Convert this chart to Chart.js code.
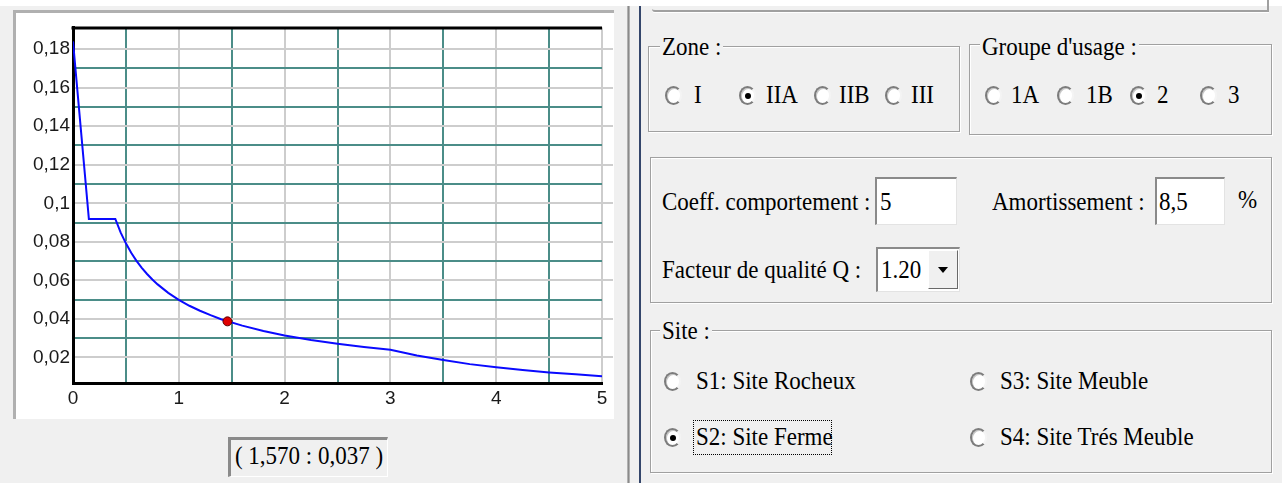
<!DOCTYPE html>
<html><head><meta charset="utf-8">
<script src="https://cdn.jsdelivr.net/npm/chart.js@4.4.1/dist/chart.umd.min.js"></script>
<style>
html,body{margin:0;padding:0;}
body{width:1282px;height:483px;background:#f0f0f0;position:relative;overflow:hidden;font-family:'Liberation Serif','Times New Roman',serif;color:#000;}
.a{position:absolute;box-sizing:border-box;}
.t{position:absolute;font-size:23px;white-space:nowrap;height:30px;line-height:30px;transform:scaleY(1.1);transform-origin:0 50%;}
.box{position:absolute;box-sizing:border-box;border:1px solid #a0a0a0;box-shadow:1px 1px 0 #fff, inset 1px 1px 0 #fff;}
.lbl{background:#f0f0f0;padding:0 2px;}
.rd{position:absolute;width:13px;height:15px;border-radius:50%;background:#fff;border:2px solid #7c7c7c;border-right-color:#f4f4f4;box-shadow:inset 1px 1px 0 #c8c8c8;}
.rd.on::after{content:'';position:absolute;left:3.5px;top:4.5px;width:6px;height:6px;border-radius:50%;background:#000;}
.inp{position:absolute;box-sizing:border-box;background:#fff;border-top:2px solid #8a8a8a;border-left:2px solid #8a8a8a;border-right:1px solid #e3e3e3;border-bottom:1px solid #e3e3e3;}
</style></head>
<body>
<div class="a" style="left:0;top:0;width:1282px;height:6px;background:#fff"></div>

<!-- left chart panel -->
<div class="a" style="left:13px;top:10px;width:601px;height:409px;background:#fff;border-top:3px solid #b0b0b0;border-left:3px solid #b0b0b0"></div>
<canvas id="c" width="598" height="406" style="position:absolute;left:16px;top:13px"></canvas>

<div class="a" style="left:228px;top:437px;width:160px;height:40px;border-top:3px solid #8a8a8a;border-left:3px solid #8a8a8a;border-right:1px solid #fff;border-bottom:1px solid #fff"></div>
<div class="t" style="left:228px;top:441px;width:162px;text-align:center">( 1,570 : 0,037 )</div>

<!-- separators -->
<div class="a" style="left:627px;top:6px;width:3px;height:477px;background:linear-gradient(to right,#c4c4c4,#8a8a8a,#c4c4c4)"></div>
<div class="a" style="left:639px;top:6px;width:2px;height:477px;background:#34466b"></div>

<!-- top right cut box -->
<div class="a" style="left:652px;top:-20px;width:617px;height:32px;border-right:2px solid #a0a0a0;border-bottom:2px solid #a0a0a0;border-bottom-left-radius:3px;box-shadow:0 1px 0 #fff"></div>

<!-- Zone -->
<div class="box" style="left:648px;top:46px;width:312px;height:86px"></div>
<div class="t lbl" style="left:660px;top:32px">Zone :</div>
<div class="rd" style="left:665px;top:86px"></div><div class="t" style="left:694px;top:80px">I</div>
<div class="rd on" style="left:739px;top:86px"></div><div class="t" style="left:766px;top:80px">IIA</div>
<div class="rd" style="left:814px;top:86px"></div><div class="t" style="left:839px;top:80px">IIB</div>
<div class="rd" style="left:885px;top:86px"></div><div class="t" style="left:911px;top:80px">III</div>

<!-- Groupe -->
<div class="box" style="left:969px;top:44px;width:303px;height:91px"></div>
<div class="t lbl" style="left:980px;top:32px">Groupe d'usage :</div>
<div class="rd" style="left:985px;top:86px"></div><div class="t" style="left:1011px;top:80px">1A</div>
<div class="rd" style="left:1057px;top:86px"></div><div class="t" style="left:1086px;top:80px">1B</div>
<div class="rd on" style="left:1130px;top:86px"></div><div class="t" style="left:1157px;top:80px">2</div>
<div class="rd" style="left:1200px;top:86px"></div><div class="t" style="left:1228px;top:80px">3</div>

<!-- Coefficients -->
<div class="box" style="left:650px;top:157px;width:622px;height:146px"></div>
<div class="t" style="left:662px;top:187px">Coeff. comportement :</div>
<div class="inp" style="left:875px;top:177px;width:82px;height:48px"></div>
<div class="t" style="left:880px;top:187px">5</div>
<div class="t" style="left:992px;top:187px">Amortissement :</div>
<div class="inp" style="left:1155px;top:177px;width:70px;height:48px"></div>
<div class="t" style="left:1159px;top:187px">8,5</div>
<div class="t" style="left:1238px;top:185px">%</div>
<div class="t" style="left:662px;top:255px">Facteur de qualité Q :</div>
<div class="inp" style="left:876px;top:247px;width:84px;height:45px"></div>
<div class="t" style="left:881px;top:255px">1.20</div>
<div class="a" style="left:928px;top:250px;width:30px;height:39px;background:#f0f0f0;border:1px solid;border-color:#fff #696969 #696969 #fff"></div>
<div class="a" style="left:938px;top:267px;width:0;height:0;border-left:5px solid transparent;border-right:5px solid transparent;border-top:6px solid #000"></div>

<!-- Site -->
<div class="box" style="left:650px;top:330px;width:622px;height:143px"></div>
<div class="t lbl" style="left:660px;top:316px">Site :</div>
<div class="rd" style="left:664px;top:372px"></div><div class="t" style="left:696px;top:366px">S1: Site Rocheux</div>
<div class="rd" style="left:970px;top:372px"></div><div class="t" style="left:1000px;top:366px">S3: Site Meuble</div>
<div class="rd on" style="left:664px;top:428px"></div><div class="t" style="left:696px;top:422px">S2: Site Ferme</div>
<div class="a" style="left:693px;top:420px;width:139px;height:35px;border:1px dotted #000"></div>
<div class="rd" style="left:970px;top:428px"></div><div class="t" style="left:1000px;top:422px">S4: Site Trés Meuble</div>

<script>
// Spectrum curve (period T in s, spectral value)
const periods  = [0.00, 0.15, 0.40, 0.45, 0.50, 0.55, 0.60, 0.65, 0.70, 0.75, 0.80, 0.90, 1.00, 1.10, 1.20, 1.30, 1.40, 1.60, 1.80, 2.00, 2.25, 2.50, 2.75, 3.00, 3.25, 3.50, 3.75, 4.00, 4.25, 4.50, 4.75, 5.00];
const spectrum = [0.184, 0.0919, 0.0919, 0.0849, 0.0792, 0.0743, 0.0701, 0.0665, 0.0633, 0.0604, 0.0579, 0.0535, 0.0499, 0.0468, 0.0442, 0.0419, 0.0398, 0.0365, 0.0337, 0.0314, 0.0290, 0.0271, 0.0254, 0.0240, 0.0210, 0.0186, 0.0165, 0.0149, 0.0134, 0.0122, 0.0112, 0.0102];
const markerPeriod = [1.46];
const markerValue  = [0.0387];

const xMajorTicks = [0, 1, 2, 3, 4, 5];
const xTickLabels = ['0', '1', '2', '3', '4', '5'];
const xMinorTicks = [0.5, 1.5, 2.5, 3.5, 4.5];
const yMajorTicks = [0.02, 0.04, 0.06, 0.08, 0.10, 0.12, 0.14, 0.16, 0.18];
const yTickLabels = ['0,02', '0,04', '0,06', '0,08', '0,1', '0,12', '0,14', '0,16', '0,18'];
const yMinorTicks = [0.03, 0.05, 0.07, 0.09, 0.11, 0.13, 0.15, 0.17];
const xRange = [0, 5];
const yRange = [0.0067, 0.1913];

const GRAY = '#cdcdcd', TEAL = '#4b8d88';
const near = (arr, v) => arr.findIndex(t => Math.abs(t - v) < 1e-9);
const tickFont = {family: "'Liberation Sans', Arial, sans-serif", size: 19};

const topBorder = {
  id: 'topBorder',
  beforeDatasetsDraw(chart) {
    const {ctx, chartArea: a} = chart;
    ctx.save();
    ctx.strokeStyle = '#000';
    ctx.lineWidth = 3;
    ctx.beginPath();
    ctx.moveTo(a.left - 1.5, a.top + 0.5);
    ctx.lineTo(a.right, a.top + 0.5);
    ctx.stroke();
    ctx.restore();
  }
};

new Chart(document.getElementById('c'), {
  type: 'line',
  data: {
    datasets: [
      {
        type: 'scatter',
        data: markerPeriod.map((x, i) => ({x, y: markerValue[i]})),
        pointRadius: 4.5, backgroundColor: '#e00000', borderColor: '#5a0000', borderWidth: 1,
        order: 0
      },
      {
        data: periods.map((x, i) => ({x, y: spectrum[i]})),
        borderColor: '#0a0aff', borderWidth: 2, pointRadius: 0, fill: false, tension: 0,
        order: 1
      }
    ]
  },
  options: {
    responsive: false, animation: false,
    layout: {padding: {left: 0, top: 10, right: 0, bottom: 0}},
    plugins: {legend: {display: false}, tooltip: {enabled: false}},
    scales: {
      x: {
        type: 'linear', min: xRange[0], max: xRange[1],
        afterBuildTicks: s => { s.ticks = [...xMajorTicks, ...xMinorTicks].sort((a, b) => a - b).map(v => ({value: v})); },
        afterFit: s => { s.height = 36; },
        ticks: {autoSkip: false, maxRotation: 0, padding: 4, color: '#1a1a1a', font: tickFont,
          callback: v => { const i = near(xMajorTicks, v); return i >= 0 ? xTickLabels[i] : ''; }},
        grid: {drawTicks: false, lineWidth: 2, color: c => near(xMinorTicks, c.tick.value) >= 0 ? TEAL : GRAY},
        border: {color: '#000', width: 3}
      },
      y: {
        type: 'linear', min: yRange[0], max: yRange[1],
        afterBuildTicks: s => { s.ticks = [...yMajorTicks, ...yMinorTicks].sort((a, b) => a - b).map(v => ({value: v})); },
        afterFit: s => { s.width = 57; },
        ticks: {autoSkip: false, padding: 3, color: '#1a1a1a', font: tickFont,
          callback: v => { const i = near(yMajorTicks, v); return i >= 0 ? yTickLabels[i] : ''; }},
        grid: {drawTicks: false, lineWidth: 2, color: c => near(yMinorTicks, c.tick.value) >= 0 ? TEAL : GRAY},
        border: {color: '#000', width: 3}
      },
      y2: {
        type: 'linear', position: 'right', min: yRange[0], max: yRange[1],
        afterBuildTicks: s => { s.ticks = yMajorTicks.map(v => ({value: v})); },
        afterFit: s => { s.width = 12; },
        ticks: {display: false},
        grid: {drawOnChartArea: false, drawTicks: true, tickLength: 11, lineWidth: 2, color: GRAY},
        border: {display: false}
      }
    }
  },
  plugins: [topBorder]
});
</script>
</body></html>
